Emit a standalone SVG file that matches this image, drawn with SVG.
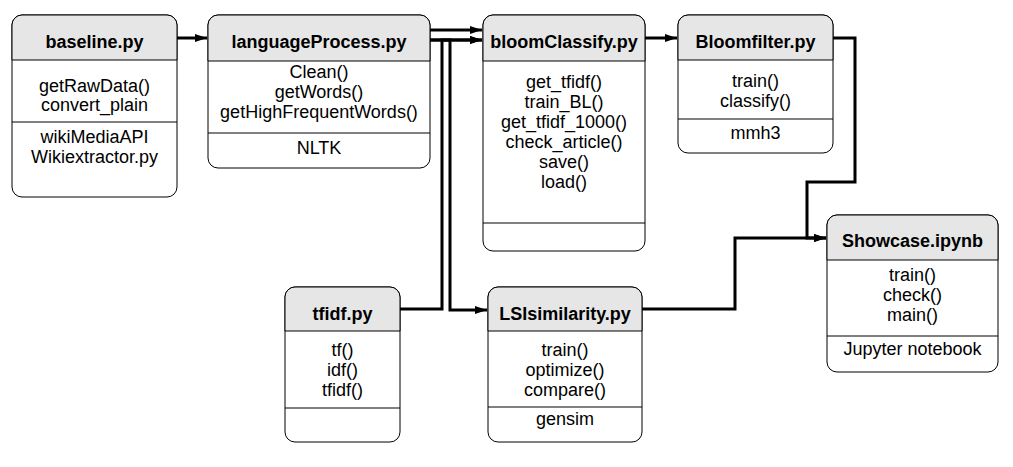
<svg xmlns="http://www.w3.org/2000/svg" width="1013" height="467" viewBox="0 0 1013 467">
<style>
.box{fill:#ffffff;stroke:#000;stroke-width:1}
.hdr{fill:#e6e6e6;stroke:#000;stroke-width:1}
.div{stroke:#000;stroke-width:1}
text{font-family:"Liberation Sans",Arial,sans-serif;font-size:18px;fill:#000;text-anchor:middle}
.t{font-weight:bold}
.c{fill:none;stroke:#000;stroke-width:3}
</style>
<defs>
<marker id="ar" markerUnits="userSpaceOnUse" markerWidth="12" markerHeight="10" refX="12" refY="5" orient="auto">
<path d="M0,1 L12,5 L0,9 Z" fill="#000"/>
</marker>
</defs>
<rect width="1013" height="467" fill="#fff"/>

<g id="connectors">
<path class="c" d="M177,38 H207" marker-end="url(#ar)"/>
<path class="c" d="M430,30 H482" marker-end="url(#ar)"/>
<path class="c" d="M430,40 H482" marker-end="url(#ar)"/>
<path class="c" d="M400,309 H442 V40 H482" marker-end="url(#ar)"/>
<path class="c" d="M430,40 H450 V310 H487" marker-end="url(#ar)"/>
<path class="c" d="M645,38 H677" marker-end="url(#ar)"/>
<path class="c" d="M833,38 H855 V182 H807 V238 H826" marker-end="url(#ar)"/>
<path class="c" d="M642,309 H735 V238 H826" marker-end="url(#ar)"/>
</g>

<g id="baseline">
<rect class="box" x="12" y="15" width="165" height="182" rx="10"/>
<path class="hdr" d="M12,60 V25 A10,10 0 0 1 22,15 H167 A10,10 0 0 1 177,25 V60 Z"/>
<line class="div" x1="12" y1="122" x2="177" y2="122"/>
<text class="t" x="94.5" y="48">baseline.py</text>
<text x="94.5" y="92">getRawData()</text>
<text x="94.5" y="111">convert_plain</text>
<text x="94.5" y="143">wikiMediaAPI</text>
<text x="94.5" y="163">Wikiextractor.py</text>
</g>

<g id="languageProcess">
<rect class="box" x="208" y="15" width="222" height="153" rx="10"/>
<path class="hdr" d="M208,61 V25 A10,10 0 0 1 218,15 H420 A10,10 0 0 1 430,25 V61 Z"/>
<line class="div" x1="208" y1="133" x2="430" y2="133"/>
<text class="t" x="319" y="48">languageProcess.py</text>
<text x="319" y="78">Clean()</text>
<text x="319" y="98">getWords()</text>
<text x="319" y="118">getHighFrequentWords()</text>
<text x="319" y="154">NLTK</text>
</g>

<g id="bloomClassify">
<rect class="box" x="483" y="15" width="162" height="236" rx="10"/>
<path class="hdr" d="M483,61 V25 A10,10 0 0 1 493,15 H635 A10,10 0 0 1 645,25 V61 Z"/>
<line class="div" x1="483" y1="223" x2="645" y2="223"/>
<text class="t" x="564" y="48">bloomClassify.py</text>
<text x="564" y="88">get_tfidf()</text>
<text x="564" y="108">train_BL()</text>
<text x="564" y="128">get_tfidf_1000()</text>
<text x="564" y="148">check_article()</text>
<text x="564" y="168">save()</text>
<text x="564" y="188">load()</text>
</g>

<g id="Bloomfilter">
<rect class="box" x="678" y="15" width="155" height="138" rx="10"/>
<path class="hdr" d="M678,60 V25 A10,10 0 0 1 688,15 H823 A10,10 0 0 1 833,25 V60 Z"/>
<line class="div" x1="678" y1="119" x2="833" y2="119"/>
<text class="t" x="755.5" y="48">Bloomfilter.py</text>
<text x="755.5" y="87">train()</text>
<text x="755.5" y="107">classify()</text>
<text x="755.5" y="139">mmh3</text>
</g>

<g id="tfidf">
<rect class="box" x="285" y="287" width="115" height="155" rx="10"/>
<path class="hdr" d="M285,331 V297 A10,10 0 0 1 295,287 H390 A10,10 0 0 1 400,297 V331 Z"/>
<line class="div" x1="285" y1="408" x2="400" y2="408"/>
<text class="t" x="342.5" y="320">tfidf.py</text>
<text x="342.5" y="356">tf()</text>
<text x="342.5" y="376">idf()</text>
<text x="342.5" y="396">tfidf()</text>
</g>

<g id="LSIsimilarity">
<rect class="box" x="488" y="287" width="154" height="155" rx="10"/>
<path class="hdr" d="M488,331 V297 A10,10 0 0 1 498,287 H632 A10,10 0 0 1 642,297 V331 Z"/>
<line class="div" x1="488" y1="407" x2="642" y2="407"/>
<text class="t" x="565" y="320">LSIsimilarity.py</text>
<text x="565" y="356">train()</text>
<text x="565" y="376">optimize()</text>
<text x="565" y="396">compare()</text>
<text x="565" y="425">gensim</text>
</g>

<g id="Showcase">
<rect class="box" x="827" y="215" width="171" height="157" rx="10"/>
<path class="hdr" d="M827,260 V225 A10,10 0 0 1 837,215 H988 A10,10 0 0 1 998,225 V260 Z"/>
<line class="div" x1="827" y1="336" x2="998" y2="336"/>
<text class="t" x="912.5" y="247">Showcase.ipynb</text>
<text x="912.5" y="281">train()</text>
<text x="912.5" y="301">check()</text>
<text x="912.5" y="321">main()</text>
<text x="912.5" y="355">Jupyter notebook</text>
</g>
</svg>
